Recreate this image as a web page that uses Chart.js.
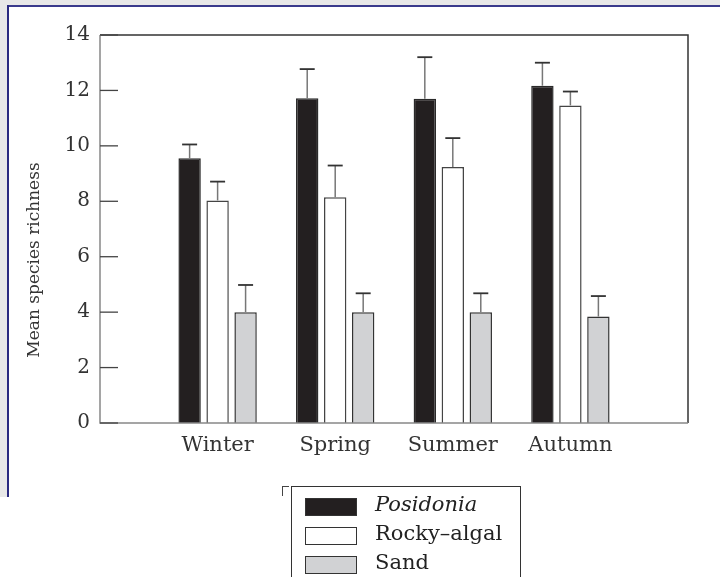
<!DOCTYPE html>
<html>
<head>
<meta charset="utf-8">
<script src="https://cdn.jsdelivr.net/npm/chart.js@4.4.0/dist/chart.umd.min.js"></script>
<style>
  html, body { margin: 0; padding: 0; background: #fff; }
  #page { position: relative; width: 720px; height: 577px; overflow: hidden; }
  #topband { position: absolute; left: 0; top: 0; width: 720px; height: 5px; background: #e8e8e8; }
  #leftband { position: absolute; left: 0; top: 0; width: 7px; height: 497px; background: #e8e8e8; }
  #topline { position: absolute; left: 7px; top: 5px; width: 713px; height: 2px; background: #3a3a8c; }
  #leftline { position: absolute; left: 7px; top: 5px; width: 2px; height: 492px; background: #2a2a80; }
  #wrap { position: absolute; left: 0; top: 0; width: 720px; height: 577px; }
  #legend { position: absolute; left: 291px; top: 486px; width: 228px; height: 100px;
            border: 1.5px solid #333; border-bottom: none; font-family: "DejaVu Serif", serif;
            font-size: 21px; color: #222; }
  #legend .row { position: absolute; left: 13px; height: 20px; }
  #legend .sw { position: absolute; left: 0; top: 0; width: 50px; height: 16px; border: 1.5px solid #333; }
  #legend .lbl { position: absolute; left: 70px; top: -6px; white-space: nowrap; }
  #corner { position: absolute; left: 282px; top: 486px; width: 6px; height: 9px;
            border-left: 1.5px solid #444; border-top: 1.5px solid #444; }
</style>
</head>
<body>
<div id="page">
  <div id="topband"></div>
  <div id="leftband"></div>
  <div id="topline"></div>
  <div id="leftline"></div>
  <div id="wrap"><canvas id="richnessChart"></canvas></div>
  <div id="corner"></div>
  <div id="legend"></div>
</div>
<script>
// data
var seasons = ['Winter', 'Spring', 'Summer', 'Autumn'];
var seriesNames = ['Posidonia', 'Rocky\u2013algal', 'Sand'];
var posidonia = [9.55, 11.72, 11.7, 12.17];
var posidoniaErr = [0.5, 1.05, 1.5, 0.83];
var rockyAlgal = [8.03, 8.15, 9.24, 11.46];
var rockyAlgalErr = [0.68, 1.14, 1.04, 0.5];
var sand = [4.0, 4.0, 4.0, 3.84];
var sandErr = [0.98, 0.68, 0.68, 0.74];
var yTicks = [0, 2, 4, 6, 8, 10, 12, 14];
var yTitle = 'Mean species richness';

var fills = ['#231f20', '#ffffff', '#d1d2d4'];

// pad one empty slot on each side so the groups sit where they do in the figure
function pad(arr) { return [null].concat(arr).concat([null]); }
var labels = [''].concat(seasons).concat(['']);

var errs = [posidoniaErr, rockyAlgalErr, sandErr];

// upper error bars
var errorBars = {
  id: 'errorBars',
  afterDatasetsDraw: function(chart) {
    var ctx = chart.ctx;
    var y = chart.scales.y;
    ctx.save();
    chart.data.datasets.forEach(function(ds, di) {
      var meta = chart.getDatasetMeta(di);
      meta.data.forEach(function(bar, i) {
        var v = ds.data[i];
        if (v === null) return;
        var top = y.getPixelForValue(v + errs[di][i - 1]);
        ctx.strokeStyle = '#777';
        ctx.lineWidth = 1.5;
        ctx.beginPath();
        ctx.moveTo(bar.x, bar.y);
        ctx.lineTo(bar.x, top);
        ctx.stroke();
        ctx.strokeStyle = '#333';
        ctx.lineWidth = 1.8;
        ctx.beginPath();
        ctx.moveTo(bar.x - 7.5, top);
        ctx.lineTo(bar.x + 7.5, top);
        ctx.stroke();
      });
    });
    ctx.restore();
  }
};

// frame, inward ticks and the axis title (sits low, as in the figure)
var frame = {
  id: 'frame',
  afterDraw: function(chart) {
    var a = chart.chartArea;
    var ctx = chart.ctx;
    var y = chart.scales.y;
    ctx.save();
    ctx.lineWidth = 1.5;
    ctx.strokeStyle = '#333';
    ctx.beginPath();
    ctx.moveTo(a.left, a.top);
    ctx.lineTo(a.right, a.top);
    ctx.lineTo(a.right, a.bottom);
    ctx.stroke();
    ctx.strokeStyle = '#888';
    ctx.beginPath();
    ctx.moveTo(a.left, a.top);
    ctx.lineTo(a.left, a.bottom);
    ctx.lineTo(a.right, a.bottom);
    ctx.stroke();
    ctx.strokeStyle = '#444';
    ctx.lineWidth = 1.3;
    yTicks.forEach(function(t) {
      var py = y.getPixelForValue(t);
      ctx.beginPath();
      ctx.moveTo(a.left, py);
      ctx.lineTo(a.left + 18, py);
      ctx.stroke();
    });
    ctx.translate(35, a.bottom - 163);
    ctx.rotate(-Math.PI / 2);
    ctx.fillStyle = '#333';
    ctx.font = '17px "DejaVu Serif"';
    ctx.textAlign = 'center';
    ctx.textBaseline = 'middle';
    ctx.fillText(yTitle, 0, 0);
    ctx.restore();
  }
};

var canvas = document.getElementById('richnessChart').getContext('2d');
var chart = new Chart(canvas, {
  type: 'bar',
  data: {
    labels: labels,
    datasets: [
      { label: seriesNames[0], data: pad(posidonia), backgroundColor: fills[0], borderColor: '#2a2a2a', borderWidth: 1.5 },
      { label: seriesNames[1], data: pad(rockyAlgal), backgroundColor: fills[1], borderColor: '#444', borderWidth: 1.5 },
      { label: seriesNames[2], data: pad(sand), backgroundColor: fills[2], borderColor: '#333', borderWidth: 1.5 }
    ]
  },
  options: {
    responsive: true,
    maintainAspectRatio: false,
    animation: false,
    categoryPercentage: 0.714,
    barPercentage: 0.8,
    layout: { padding: { left: 0, top: 35, right: 32, bottom: 114 } },
    plugins: { legend: { display: false }, tooltip: { enabled: false } },
    scales: {
      x: {
        offset: false,
        grid: { display: false, drawTicks: false },
        border: { display: false },
        ticks: { color: '#333', padding: 10, maxRotation: 0, autoSkip: false,
                 font: { family: 'DejaVu Serif', size: 21 } },
        afterFit: function(s) { s.height = 40; }
      },
      y: {
        min: 0, max: 14,
        afterBuildTicks: function(s) { s.ticks = yTicks.map(function(v) { return { value: v }; }); },
        grid: { display: false, drawTicks: false },
        border: { display: false },
        ticks: { color: '#333', padding: 10, font: { family: 'DejaVu Serif', size: 20 } },
        afterFit: function(s) { s.width = 100; }
      }
    }
  },
  plugins: [errorBars, frame]
});

// legend box under the plot
var legend = document.getElementById('legend');
seriesNames.forEach(function(name, i) {
  var row = document.createElement('div');
  row.className = 'row';
  row.style.top = (11 + i * 29) + 'px';
  var sw = document.createElement('div');
  sw.className = 'sw';
  sw.style.background = fills[i];
  var lbl = document.createElement('div');
  lbl.className = 'lbl';
  lbl.textContent = name;
  if (i === 0) lbl.style.fontStyle = 'italic';
  row.appendChild(sw);
  row.appendChild(lbl);
  legend.appendChild(row);
});
</script>
</body>
</html>
